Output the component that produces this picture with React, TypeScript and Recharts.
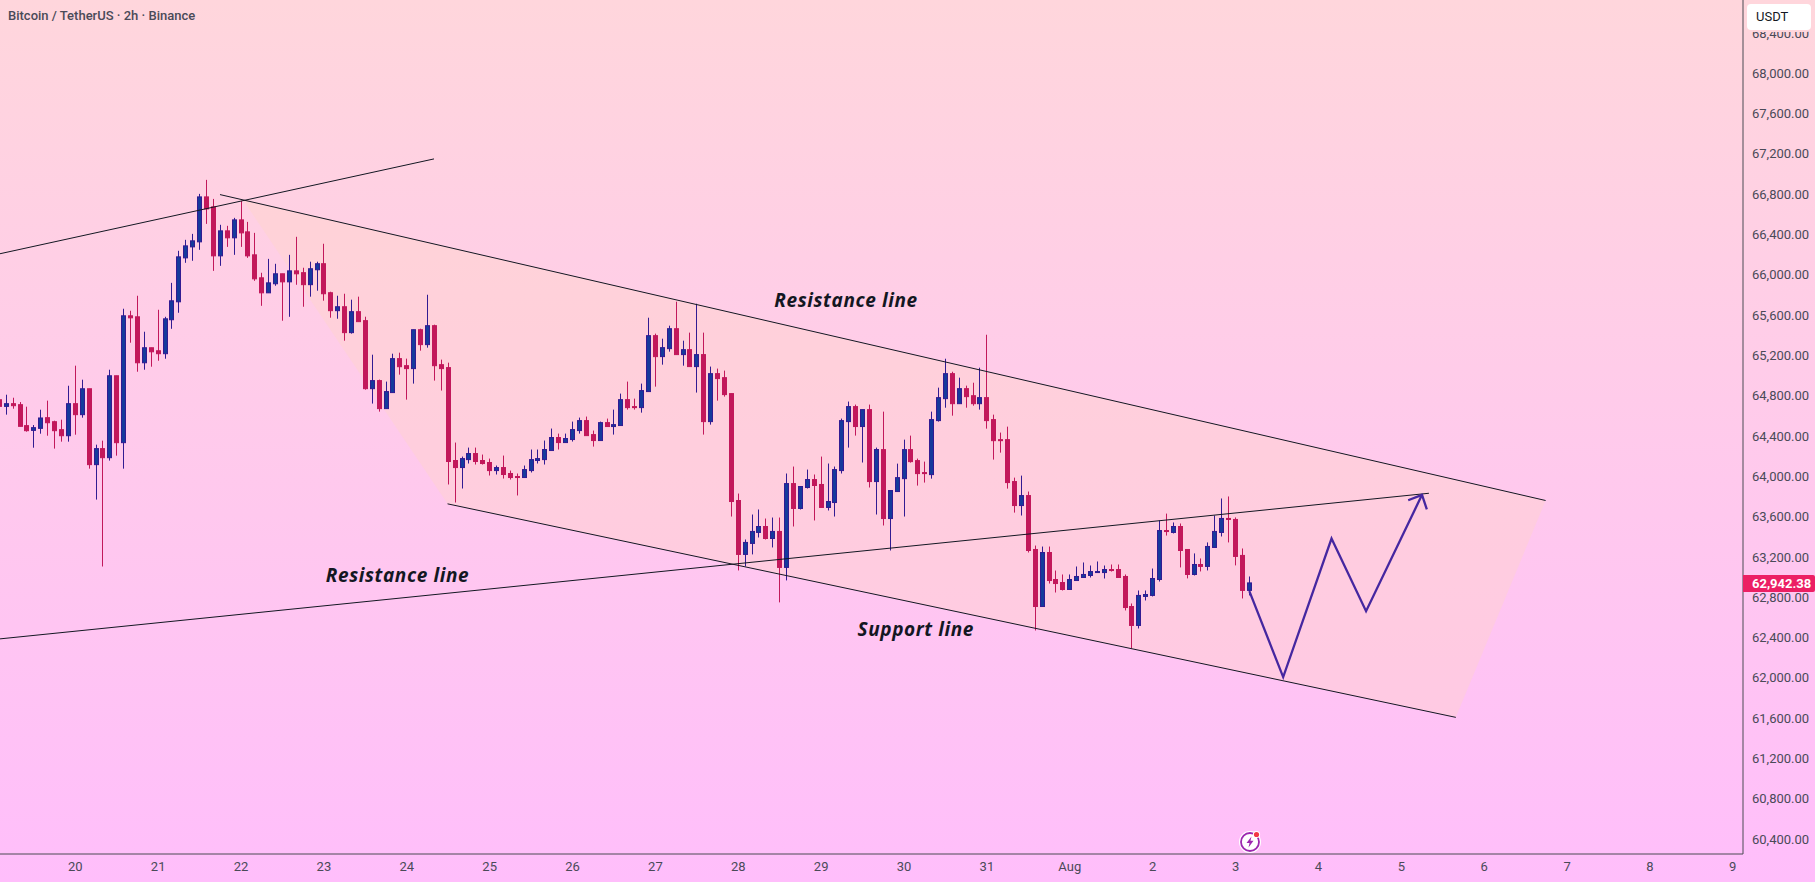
// App.tsx
import React from "react";
import {
  ComposedChart,
  Bar,
  Line,
  Area,
  XAxis,
  YAxis,
  ReferenceDot,
} from "recharts";

// BTC/USDT 2h candles
const opens = [
  64760, 64694, 64721, 64711, 64503, 64456, 64476, 64582, 64542, 64463,
  64403, 64721, 64612, 64869, 64116, 64275, 64185, 64998, 64334, 65593,
  65583, 65127, 65276, 65246, 65217, 65554, 65732, 66168, 66277, 66327,
  66773, 66674, 66188, 66436, 66367, 66545, 66426, 66198, 65970, 65821,
  65911, 66010, 65930, 66039, 66021, 65902, 66050, 66110, 65822, 65644,
  65683, 65426, 65634, 65545, 64870, 64950, 64672, 64831, 65168, 65098,
  65069, 65455, 65307, 65495, 65108, 65079, 64157, 64087, 64166, 64226,
  64157, 64137, 64057, 64087, 64028, 63998, 63988, 64057, 64157, 64166,
  64256, 64385, 64335, 64365, 64454, 64553, 64414, 64355, 64533, 64494,
  64504, 64761, 64692, 64682, 64841, 65396, 65188, 65267, 65465, 65208,
  65257, 65089, 65208, 64543, 65019, 64979, 64821, 63760, 63225, 63334,
  63443, 63502, 63383, 63453, 63096, 63928, 63681, 63889, 63968, 63919,
  63691, 63740, 64057, 64543, 64692, 64494, 64662, 63948, 64265, 63581,
  63849, 63977, 64265, 64156, 64037, 64017, 64553, 64771, 65019, 64721,
  64870, 64800, 64721, 64781, 64563, 64364, 64364, 63948, 63710, 63809,
  63274, 62708, 63244, 62976, 62946, 62877, 62966, 62996, 63016, 63045,
  63045, 63075, 63075, 63006, 62708, 62520, 62808, 62818, 62976, 63462,
  63443, 63502, 63274, 63026, 63125, 63106, 63294, 63443, 63582, 63572,
  63215, 62868,
];
const closes = [
  64694, 64721, 64701, 64496, 64453, 64483, 64579, 64532, 64453, 64403,
  64721, 64612, 64869, 64116, 64275, 64185, 64998, 64334, 65593, 65573,
  65127, 65276, 65236, 65217, 65563, 65742, 66178, 66287, 66337, 66773,
  66654, 66188, 66436, 66367, 66545, 66416, 66188, 65960, 65821, 65920,
  66010, 65930, 66039, 66010, 65902, 66060, 66110, 65812, 65644, 65683,
  65426, 65634, 65535, 64870, 64950, 64672, 64841, 65168, 65088, 65069,
  65455, 65307, 65495, 65098, 65069, 64147, 64087, 64176, 64226, 64147,
  64127, 64057, 64087, 64018, 63988, 63988, 64067, 64166, 64176, 64266,
  64385, 64335, 64375, 64464, 64553, 64404, 64355, 64533, 64494, 64513,
  64761, 64682, 64682, 64851, 65396, 65188, 65277, 65465, 65208, 65257,
  65089, 65208, 64543, 65019, 64970, 64811, 63750, 63225, 63344, 63453,
  63502, 63383, 63453, 63096, 63928, 63681, 63899, 63968, 63909, 63691,
  63750, 64067, 64553, 64692, 64494, 64662, 63948, 64266, 63581, 63859,
  63987, 64265, 64146, 64027, 64027, 64563, 64781, 65019, 64721, 64870,
  64791, 64721, 64781, 64553, 64354, 64354, 63938, 63710, 63809, 63264,
  62708, 63244, 62966, 62936, 62877, 62976, 63006, 63026, 63055, 63055,
  63075, 63065, 62996, 62698, 62520, 62818, 62827, 62986, 63462, 63452,
  63502, 63264, 63026, 63125, 63106, 63304, 63453, 63582, 63572, 63205,
  62868, 62942.38,
];
const highs = [
  64787, 64810, 64780, 64737, 64691, 64509, 64661, 64751, 64552, 64562,
  64899, 65098, 64959, 64869, 64314, 64354, 65058, 64998, 65663, 65643,
  65792, 65435, 65276, 65653, 65583, 65920, 66238, 66347, 66406, 66803,
  66942, 66753, 66496, 66486, 66565, 66733, 66525, 66416, 66020, 66158,
  66109, 66010, 66198, 66377, 66070, 66130, 66130, 66308, 65832, 65792,
  65812, 65753, 65783, 65584, 65207, 64960, 64940, 65217, 65227, 65168,
  65455, 65465, 65802, 65505, 65158, 65128, 64335, 64196, 64285, 64285,
  64216, 64176, 64107, 64206, 64057, 64028, 64107, 64266, 64266, 64355,
  64474, 64424, 64424, 64543, 64583, 64593, 64454, 64543, 64573, 64662,
  64821, 64940, 64771, 64920, 65574, 65416, 65366, 65495, 65733, 65346,
  65426, 65713, 65426, 65089, 65069, 65049, 64821, 63829, 63373, 63621,
  63671, 63581, 63591, 63591, 64028, 64097, 63899, 64067, 64018, 64196,
  64127, 64097, 64573, 64742, 64712, 64662, 64712, 64285, 64642, 63859,
  64126, 64364, 64404, 64176, 64146, 64642, 64880, 65167, 65038, 64979,
  64900, 64929, 65078, 65405, 64612, 64434, 64493, 63987, 64007, 63849,
  63313, 63303, 63303, 63065, 63026, 63026, 63105, 63145, 63115, 63155,
  63115, 63125, 63125, 63026, 62738, 62867, 62867, 63085, 63561, 63630,
  63542, 63532, 63274, 63235, 63185, 63344, 63611, 63780, 63800, 63592,
  63284, 63006,
];
const lows = [
  64678, 64612, 64671, 64496, 64443, 64284, 64423, 64403, 64275, 64344,
  64344, 64413, 64582, 64076, 63769, 63105, 64156, 64205, 64076, 65326,
  65038, 65058, 65088, 65147, 65167, 65464, 65623, 66119, 66139, 66248,
  66505, 66039, 66089, 66277, 66198, 66277, 66168, 65940, 65692, 65821,
  65891, 65544, 65583, 65901, 65683, 65783, 65842, 65743, 65574, 65564,
  65346, 65416, 65535, 64860, 64722, 64642, 64672, 64831, 65009, 64761,
  64920, 65247, 65277, 64950, 64851, 63919, 63740, 63879, 64127, 64117,
  64117, 64008, 64018, 63978, 63968, 63810, 63988, 64038, 64127, 64117,
  64256, 64266, 64335, 64345, 64424, 64404, 64295, 64355, 64494, 64414,
  64504, 64662, 64662, 64632, 64841, 64890, 65108, 65237, 65208, 65098,
  65089, 64831, 64414, 64513, 64751, 64791, 63601, 63066, 63106, 63225,
  63393, 63373, 63294, 62749, 62967, 63502, 63671, 63879, 63562, 63691,
  63661, 63601, 64028, 64285, 64404, 64137, 63889, 63621, 63512, 63264,
  63849, 63601, 64136, 63908, 63938, 63977, 64543, 64681, 64602, 64721,
  64681, 64701, 64662, 64473, 64166, 64235, 63878, 63640, 63611, 63244,
  62470, 62708, 62936, 62847, 62867, 62877, 62966, 62996, 62996, 63045,
  62986, 63055, 62996, 62669, 62292, 62490, 62768, 62808, 62956, 63412,
  63433, 63096, 62987, 63016, 63056, 63066, 63294, 63403, 63344, 63116,
  62788, 62818,
];

// axis labels
const dayTicks = [11, 23, 35, 47, 59, 71, 83, 95, 107, 119, 131, 143, 155, 167, 179, 191, 203, 215, 227, 239, 251];
const dayLabels = ["20", "21", "22", "23", "24", "25", "26", "27", "28", "29", "30", "31", "Aug", "2", "3", "4", "5", "6", "7", "8", "9"];
const priceTicks = [
  60400, 60800, 61200, 61600, 62000, 62400, 62800, 63200, 63600, 64000, 64400,
  64800, 65200, 65600, 66000, 66400, 66800, 67200, 67600, 68000, 68400,
];

// drawings, as [candle index, price]
const risingLine = [{ i: 0.1, p: 66209 }, { i: 62.94, p: 67150 }];
const channelTop = [{ i: 31.95, p: 66796 }, { i: 223.9, p: 63760 }];
const channelBottom = [{ i: 64.9, p: 63727 }, { i: 210.9, p: 61608 }];
const crossLine = [{ i: 0.1, p: 62387 }, { i: 207, p: 63832 }];
const forecast = [
  { i: 181, p: 62861 },
  { i: 185.9, p: 62008 },
  { i: 192.9, p: 63383 },
  { i: 197.9, p: 62662 },
  { i: 206, p: 63816 },
];
const arrowHead = [{ i: 204, p: 63763 }, { i: 206, p: 63816 }, { i: 206.7, p: 63671 }];
const channelFill = [
  { i: 35.28, band: [66744, 66744] },
  { i: 64.9, band: [63727, 66275] },
  { i: 210.9, band: [61608, 63966] },
  { i: 223.9, band: [63760, 63760] },
];
const notes = [
  { i: 122.6, p: 65752, text: "Resistance line" },
  { i: 57.65, p: 63016, text: "Resistance line" },
  { i: 132.7, p: 62481, text: "Support line" },
];

const candles = opens.map((open, i) => ({
  i,
  open,
  close: closes[i],
  high: highs[i],
  low: lows[i],
}));

const UP = "#153a9c";
const UP_EDGE = "#311b92";
const DOWN = "#c2185b";
const AXIS_TEXT = "#4a4a58";
const FONT = "Roboto, sans-serif";

// wick + body, bar itself spans low..high
const Candle = (props: any) => {
  const { x, y, width, height, payload } = props;
  const k = height / (payload.high - payload.low);
  const cx = Math.round(x + width / 2 - 0.5) + 0.5;
  const up = payload.close >= payload.open;
  const top = y + (payload.high - Math.max(payload.open, payload.close)) * k;
  const bot = y + (payload.high - Math.min(payload.open, payload.close)) * k;
  return (
    <g>
      <line x1={cx} x2={cx} y1={y} y2={y + height} stroke={up ? UP_EDGE : DOWN} strokeWidth={1} />
      <rect
        x={cx - 2}
        y={top}
        width={4}
        height={Math.max(bot - top, 0.5)}
        fill={up ? UP : DOWN}
        stroke={up ? UP_EDGE : DOWN}
        strokeWidth={1}
      />
    </g>
  );
};

export default function App() {
  return (
    <div
      style={{
        position: "absolute",
        left: 0,
        top: 0,
        width: 1815,
        height: 882,
        overflow: "hidden",
        background: "linear-gradient(180deg, #ffd6dc 0%, #ffbefb 100%)",
        fontFamily: FONT,
      }}
    >
      <ComposedChart
        width={1815}
        height={882}
        data={candles}
        margin={{ top: 0, right: 0, bottom: 0, left: 0 }}
      >
        <XAxis
          dataKey="i"
          type="number"
          scale="linear"
          domain={[0.096, 252.48]}
          allowDataOverflow
          ticks={dayTicks}
          interval={0}
          tickFormatter={(v: number) => dayLabels[dayTicks.indexOf(v)]}
          height={28}
          tickSize={0}
          tickMargin={8}
          axisLine={{ stroke: "#4a4a52", strokeWidth: 1 }}
          tick={{ fill: AXIS_TEXT, fontSize: 13, fontFamily: FONT }}
        />
        <YAxis
          orientation="right"
          type="number"
          domain={[60252, 68727]}
          allowDataOverflow
          ticks={priceTicks}
          interval={0}
          width={72}
          tickSize={0}
          tickMargin={9}
          tickFormatter={(v: number) =>
            v.toLocaleString("en-US", { minimumFractionDigits: 2, maximumFractionDigits: 2 })
          }
          axisLine={{ stroke: "#4a4a52", strokeWidth: 1 }}
          tick={{ fill: AXIS_TEXT, fontSize: 13, fontFamily: FONT, textAnchor: "start" }}
        />

        {/* channel shading */}
        <Area
          data={channelFill}
          dataKey="band"
          type="linear"
          stroke="none"
          fill="#ffd8c4"
          fillOpacity={0.35}
          dot={false}
          activeDot={false}
          isAnimationActive={false}
        />

        <Line data={risingLine} dataKey="p" type="linear" stroke="#131722" strokeWidth={1} dot={false} activeDot={false} isAnimationActive={false} />
        <Line data={channelTop} dataKey="p" type="linear" stroke="#131722" strokeWidth={1} dot={false} activeDot={false} isAnimationActive={false} />
        <Line data={channelBottom} dataKey="p" type="linear" stroke="#131722" strokeWidth={1} dot={false} activeDot={false} isAnimationActive={false} />
        <Line data={crossLine} dataKey="p" type="linear" stroke="#131722" strokeWidth={1} dot={false} activeDot={false} isAnimationActive={false} />

        <Bar
          dataKey={(d: any) => [d.low, d.high]}
          barSize={5}
          shape={<Candle />}
          isAnimationActive={false}
        />

        <Line data={forecast} dataKey="p" type="linear" stroke="#4527a0" strokeWidth={2.3} dot={false} activeDot={false} isAnimationActive={false} />
        <Line data={arrowHead} dataKey="p" type="linear" stroke="#4527a0" strokeWidth={2.3} dot={false} activeDot={false} isAnimationActive={false} />

        {notes.map((n) => (
          <ReferenceDot
            key={n.text + n.i}
            x={n.i}
            y={n.p}
            r={0}
            stroke="none"
            fill="none"
            label={{
              value: n.text,
              position: "center",
              fill: "#131722",
              fontSize: 19,
              fontWeight: 700,
              fontStyle: "italic",
              fontFamily: "'Open Sans', sans-serif",
              letterSpacing: 0.6,
            }}
          />
        ))}
      </ComposedChart>

      {/* header */}
      <div style={{ position: "absolute", left: 8, top: 8, fontSize: 13, fontWeight: 500, lineHeight: "16px", color: "#4a4a58" }}>
        Bitcoin / TetherUS · 2h · Binance
      </div>

      {/* currency button */}
      <div
        style={{
          position: "absolute",
          left: 1747,
          top: 4,
          width: 64,
          height: 26,
          boxSizing: "border-box",
          paddingLeft: 9,
          background: "#fff",
          borderRadius: 4,
          boxShadow: "0 0 0 2px #ffd6dc",
          fontSize: 13,
          lineHeight: "26px",
          color: "#131722",
        }}
      >
        USDT
      </div>

      {/* last price tag */}
      <div
        style={{
          position: "absolute",
          left: 1743,
          top: 575,
          width: 72,
          height: 17,
          boxSizing: "border-box",
          paddingLeft: 9,
          background: "#ec1f64",
          borderRadius: "0 2px 2px 0",
          fontSize: 13,
          fontWeight: 700,
          lineHeight: "17px",
          color: "#fff",
        }}
      >
        62,942.38
      </div>

      {/* news flash icon */}
      <svg width={28} height={28} style={{ position: "absolute", left: 1236, top: 828 }}>
        <circle cx={14} cy={14} r={11} fill="#fff" />
        <circle cx={14} cy={14} r={9} fill="none" stroke="#9c27b0" strokeWidth={1.8} />
        <path d="M15.5 8.5 L10.5 15 L13.5 15 L12.5 19.5 L17.5 12.8 L14.5 12.8 Z" fill="#9c27b0" />
        <circle cx={20.5} cy={6.5} r={3.6} fill="#fff" />
        <circle cx={20.5} cy={6.5} r={2.6} fill="#f23645" />
      </svg>
    </div>
  );
}
